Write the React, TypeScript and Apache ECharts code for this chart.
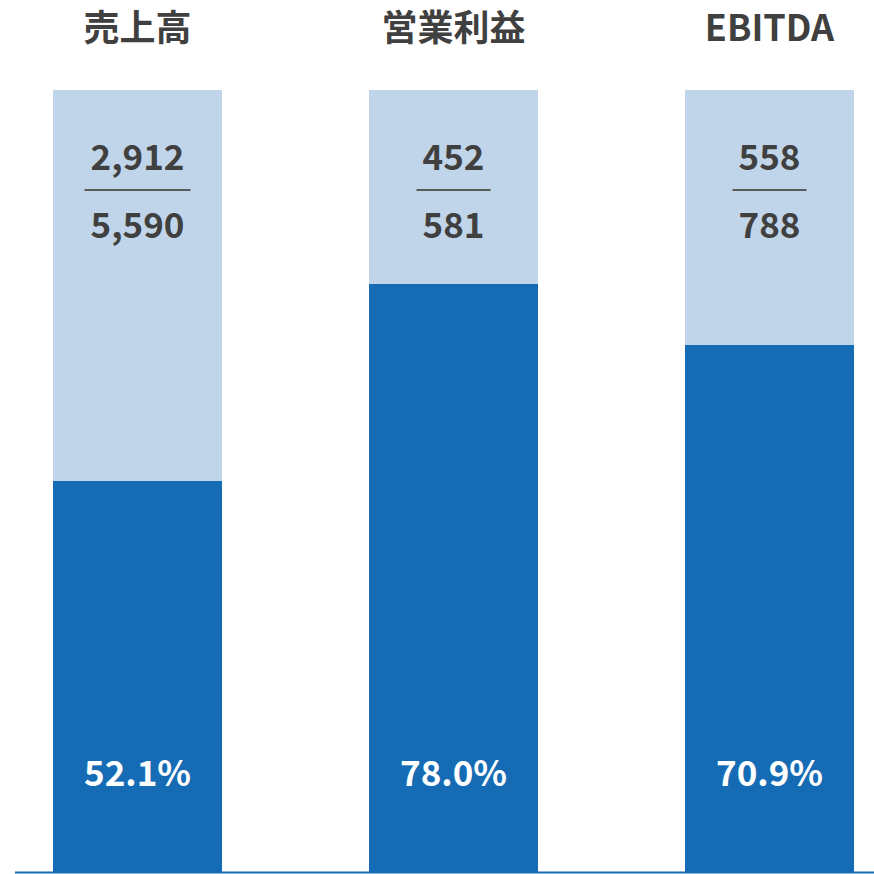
import React, { useEffect, useRef } from "react";
import * as echarts from "echarts";

const categories = ["売上高", "営業利益", "EBITDA"];
const numerators = ["2,912", "452", "558"];
const denominators = ["5,590", "581", "788"];
const rateLabels = ["52.1%", "78.0%", "70.9%"];
// filled (dark) share of each bar as drawn, in percent of full height
const filledShare = [50.0, 75.2, 67.4];

const DARK = "#166CB4";
const LIGHT = "#C1D5EA";
const TEXT = "#404040";
const FONT = "'Noto Sans CJK JP', 'Noto Sans', sans-serif";

function measure(text: string, size: number, weight: string | number): number {
  const c = document.createElement("canvas").getContext("2d");
  if (!c) return text.length * size * 0.58;
  c.font = `${weight} ${size}px ${FONT}`;
  return c.measureText(text).width;
}

export default function App() {
  const ref = useRef<HTMLDivElement>(null);
  useEffect(() => {
    if (!ref.current) return;
    const chart = echarts.init(ref.current, null, { renderer: "svg" });
    const remainder = filledShare.map((v) => 100 - v);
    chart.setOption({
      animation: false,
      backgroundColor: "#ffffff",
      grid: { left: 137.5, right: 104.5, top: 90, bottom: 2, containLabel: false },
      xAxis: [
        {
          type: "category",
          data: categories,
          boundaryGap: false,
          axisLine: { show: false },
          axisTick: { show: false },
          axisLabel: { show: false },
          splitLine: { show: false },
        },
        {
          type: "category",
          data: categories,
          position: "top",
          boundaryGap: false,
          axisLine: { show: false },
          axisTick: { show: false },
          splitLine: { show: false },
          axisLabel: {
            margin: 47,
            fontSize: 36,
            fontWeight: "bold",
            color: TEXT,
            fontFamily: FONT,
          },
        },
      ],
      yAxis: {
        type: "value",
        min: 0,
        max: 100,
        show: false,
        splitLine: { show: false },
      },
      graphic: [
        {
          type: "line",
          shape: { x1: 15, y1: 872.5, x2: 874, y2: 872.5 },
          style: { stroke: DARK, lineWidth: 2 },
          z: 100,
        },
      ],
      series: [
        {
          type: "bar",
          stack: "s",
          barWidth: 169,
          data: filledShare,
          itemStyle: { color: DARK },
          label: {
            show: true,
            position: "insideBottom",
            distance: 84,
            formatter: (p: any) => rateLabels[p.dataIndex],
            color: "#ffffff",
            fontSize: 35,
            fontWeight: "bold",
            fontFamily: FONT,
          },
        },
        {
          type: "bar",
          stack: "s",
          barWidth: 169,
          data: remainder,
          itemStyle: { color: LIGHT },
          label: {
            show: true,
            position: "insideTop",
            distance: 42,
            formatter: (p: any) => {
              const i = p.dataIndex;
              return `{n|${numerators[i]}}\n{l${i}|}\n{d|${denominators[i]}}`;
            },
            rich: {
              n: { fontSize: 35, fontWeight: "bold", color: TEXT, fontFamily: FONT, lineHeight: 44, align: "center" },
              d: { fontSize: 35, fontWeight: "bold", color: TEXT, fontFamily: FONT, lineHeight: 36, align: "center" },
              ...Object.fromEntries(
                numerators.map((t, i) => {
                  const w = Math.max(measure(t, 35, "bold"), measure(denominators[i], 35, "bold")) + 12;
                  return [
                    `l${i}`,
                    { width: Math.round(w), height: 2, lineHeight: 28, backgroundColor: "#5a5a5a", align: "center" },
                  ];
                })
              ),
            },
          },
        },
      ],
    });
    return () => chart.dispose();
  }, []);
  return (
    <div
      ref={ref}
      style={{ position: "fixed", left: 0, top: 0, width: 874, height: 874 }}
    />
  );
}
